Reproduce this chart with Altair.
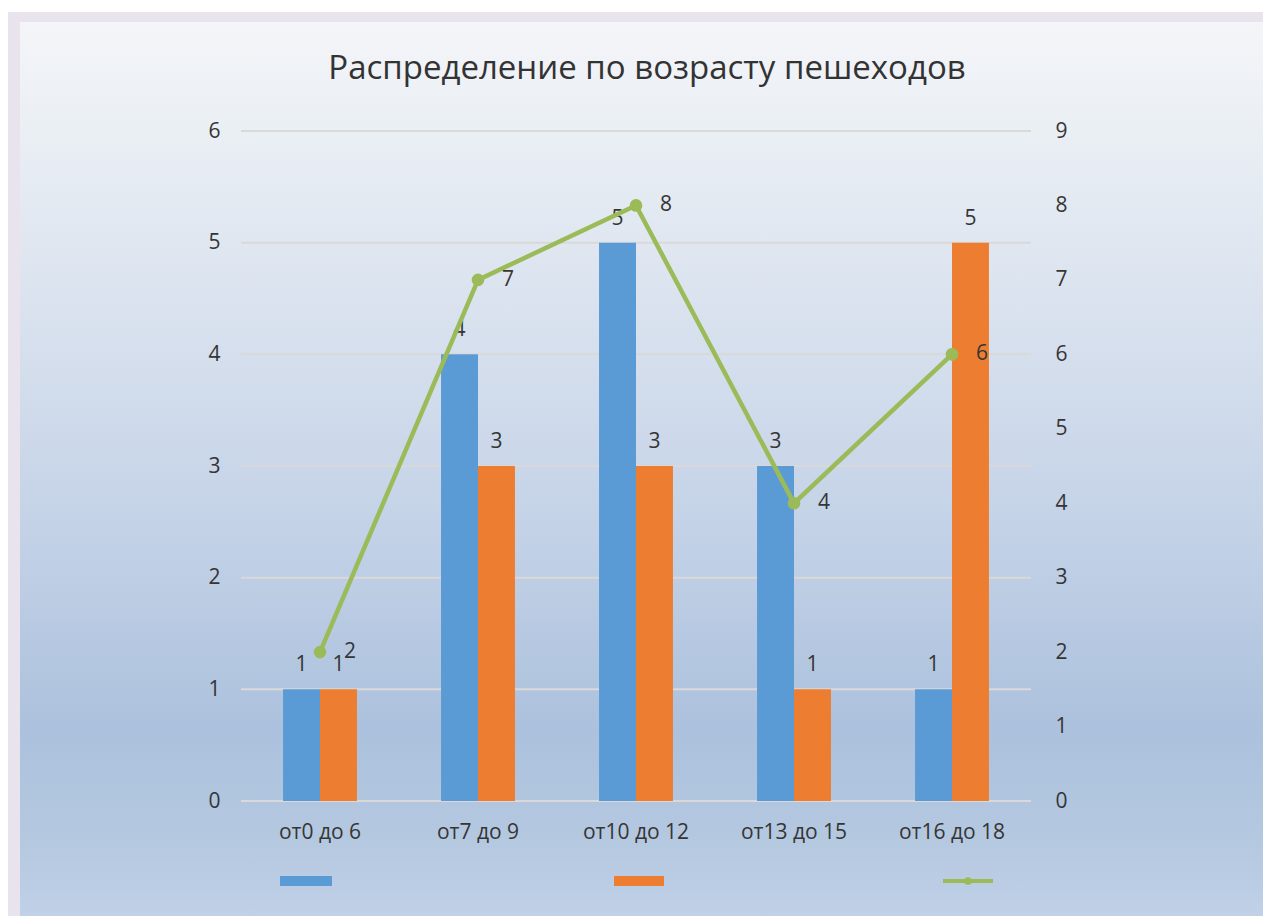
import altair as alt
import pandas as pd

categories = ["от0 до 6", "от7 до 9", "от10 до 12", "от13 до 15", "от16 до 18"]
series_a = [1, 4, 5, 3, 1]
series_b = [1, 3, 3, 1, 5]
series_c = [2, 7, 8, 4, 6]
left_ticks = [0, 1, 2, 3, 4, 5, 6]
right_ticks = [0, 1, 2, 3, 4, 5, 6, 7, 8, 9]
title_text = "Распределение по возрасту пешеходов"

FONT = "Open Sans"
TXT = "#353535"
BLUE = "#5b9bd5"
ORANGE = "#ed7d31"
GREEN = "#9bbb59"

bars_df = pd.DataFrame(
    [{"cat": c, "s": "a", "v": v} for c, v in zip(categories, series_a)]
    + [{"cat": c, "s": "b", "v": v} for c, v in zip(categories, series_b)]
)
line_df = pd.DataFrame({"cat": categories, "v": series_c})
grid_df = pd.DataFrame({"v": left_ticks})

xscale = alt.Scale(domain=categories, paddingInner=0.532, paddingOuter=0.266)
xenc = alt.X("cat:N", scale=xscale, sort=categories,
             axis=alt.Axis(title=None, labelAngle=0, labelFontSize=21, labelFont=FONT,
                           labelColor=TXT, domain=False, ticks=False, labelPadding=20,
                           grid=False, zindex=1))

one = pd.DataFrame({"k": [0]})

frame = alt.Chart(one).mark_rect(color="#e9e3ed").encode(
    x=alt.value(-233), x2=alt.value(1040), y=alt.value(-119), y2=alt.value(800))

grad = alt.LinearGradient(
    gradient="linear", x1=0, x2=0, y1=0, y2=1,
    stops=[
        alt.GradientStop(offset=0.0, color="#f4f5f9"),
        alt.GradientStop(offset=0.12, color="#eaeff4"),
        alt.GradientStop(offset=0.3, color="#dbe3ef"),
        alt.GradientStop(offset=0.53, color="#c6d4e8"),
        alt.GradientStop(offset=0.78, color="#acc1dd"),
        alt.GradientStop(offset=0.9, color="#b4c8e0"),
        alt.GradientStop(offset=1.0, color="#c2d2e9"),
    ],
)
bg = alt.Chart(one).mark_rect(color=grad).encode(
    x=alt.value(-221), x2=alt.value(1040), y=alt.value(-109), y2=alt.value(800))

title = alt.Chart(one).mark_text(
    text=title_text, fontSize=33, font=FONT, color="#333333", align="center",
    baseline="alphabetic"
).encode(x=alt.value(406), y=alt.value(-52))

yleft = alt.Y("v:Q", scale=alt.Scale(domain=[0, 6], nice=False),
              axis=alt.Axis(title=None, orient="left", values=left_ticks, format="d",
                            labelFontSize=21, labelFont=FONT, labelColor=TXT, domain=False,
                            ticks=False, labelPadding=21, grid=False, zindex=1))

grid = alt.Chart(grid_df).mark_rule(color="#d9d9d9", strokeWidth=2).encode(y=yleft)

bars = alt.Chart(bars_df).mark_bar().encode(
    x=xenc,
    xOffset=alt.XOffset("s:N", scale=alt.Scale(paddingInner=0, paddingOuter=0)),
    y=alt.Y("v:Q"),
    color=alt.Color("s:N", scale=alt.Scale(domain=["a", "b"], range=[BLUE, ORANGE]), legend=None),
)
bar_labels = alt.Chart(bars_df).mark_text(
    fontSize=21, font=FONT, color=TXT, baseline="alphabetic", dy=-18
).encode(
    x=alt.X("cat:N", scale=xscale, sort=categories),
    xOffset=alt.XOffset("s:N", scale=alt.Scale(paddingInner=0, paddingOuter=0)),
    y=alt.Y("v:Q"),
    text="v:Q",
)
bar_layer = alt.layer(grid, bars, bar_labels)

yright = alt.Y("v:Q", scale=alt.Scale(domain=[0, 9], nice=False),
               axis=alt.Axis(title=None, orient="right", values=right_ticks, format="d",
                             labelFontSize=21, labelFont=FONT, labelColor=TXT, domain=False,
                             ticks=False, labelPadding=24, grid=False, zindex=1))
line = alt.Chart(line_df).mark_line(color=GREEN, strokeWidth=4.5).encode(
    x=alt.X("cat:N", scale=xscale, sort=categories), y=yright)
pts = alt.Chart(line_df).mark_point(filled=True, color=GREEN, size=160, opacity=1).encode(
    x=alt.X("cat:N", scale=xscale, sort=categories), y=alt.Y("v:Q"))
line_labels = alt.Chart(line_df).mark_text(
    fontSize=21, font=FONT, color=TXT, align="left", baseline="middle", dx=24
).encode(x=alt.X("cat:N", scale=xscale, sort=categories), y=alt.Y("v:Q"), text="v:Q")
line_layer = alt.layer(line, pts, line_labels)

leg_a = alt.Chart(one).mark_rect(color=BLUE).encode(
    x=alt.value(39), x2=alt.value(91), y=alt.value(745), y2=alt.value(755))
leg_b = alt.Chart(one).mark_rect(color=ORANGE).encode(
    x=alt.value(373), x2=alt.value(423), y=alt.value(745), y2=alt.value(755))
leg_c = alt.Chart(one).mark_rule(color=GREEN, strokeWidth=4).encode(
    x=alt.value(702), x2=alt.value(752), y=alt.value(750))
leg_c2 = alt.Chart(one).mark_point(filled=True, color=GREEN, size=60, opacity=1).encode(
    x=alt.value(727), y=alt.value(750))

chart = alt.layer(
    frame, bg, title, bar_layer, line_layer, leg_a, leg_b, leg_c, leg_c2
).resolve_scale(y="independent").properties(
    width=790, height=670,
    autosize=alt.AutoSizeParams(type="none"),
    padding={"left": 233, "top": 123, "right": 232, "bottom": 115},
    background="white",
).configure_view(stroke=None)

chart.save("out.html", embed_options={"renderer": "svg", "actions": False})
